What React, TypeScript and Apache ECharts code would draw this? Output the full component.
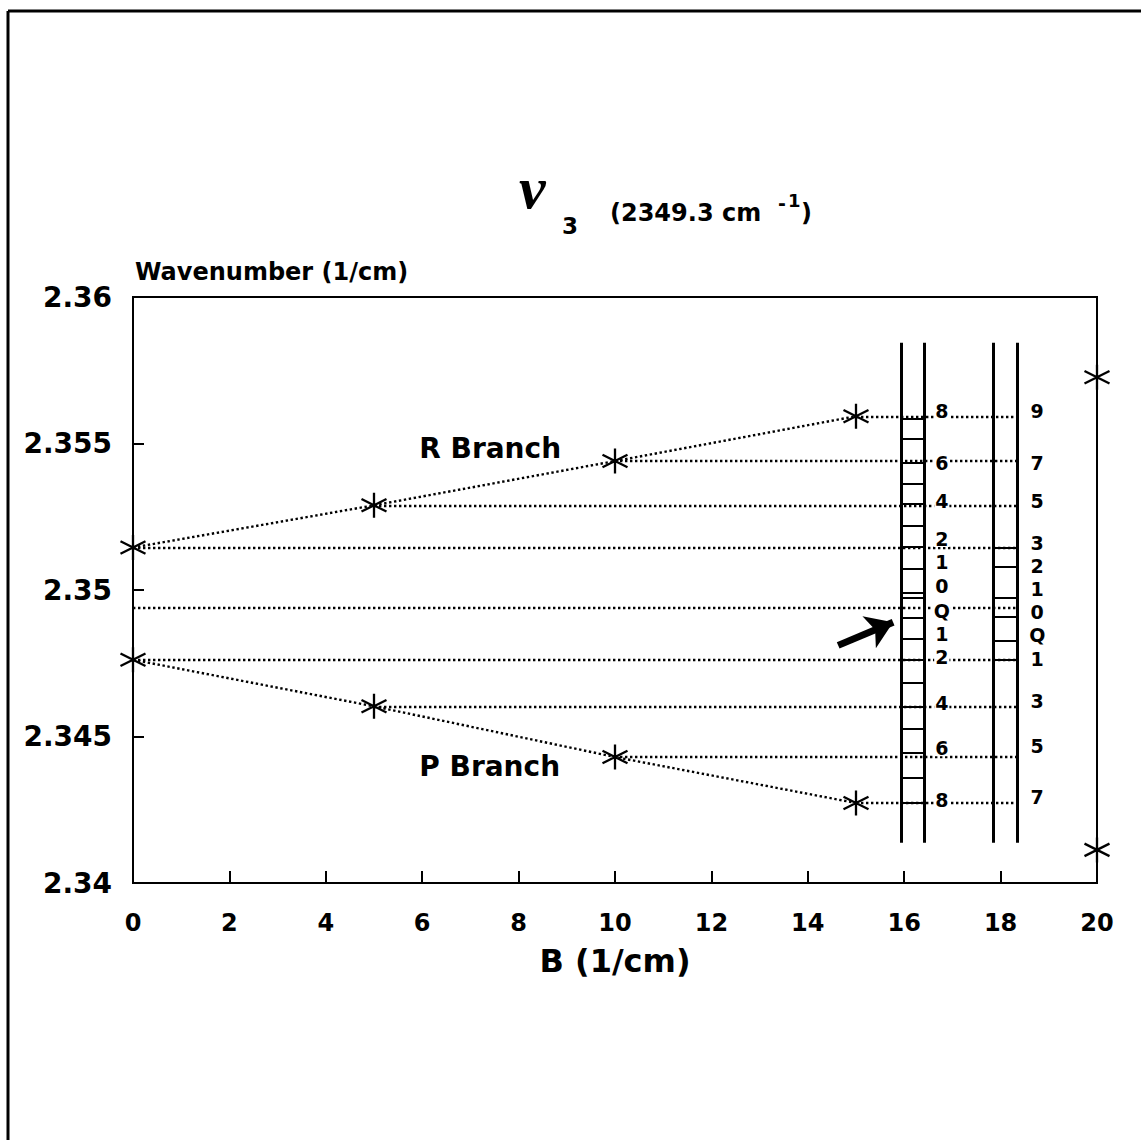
import React, { useEffect, useRef } from "react";
import * as echarts from "echarts";

// ---- data ----
const branchB = [0, 5, 10, 15];
const rBranch = [2.35145, 2.35289, 2.3544, 2.35593];
const pBranch = [2.34762, 2.34603, 2.3443, 2.34273];
const qLevel = 2.34941;
const edgeB = 20;
const edgePoints = [2.35726, 2.34113];

const xTicks = [0, 2, 4, 6, 8, 10, 12, 14, 16, 18, 20];
const yMin = 2.34;
const yMax = 2.36;
const yStep = 0.005;

// ladders
const leftRailsB = [15.93, 16.41];
const rightRailsB = [17.84, 18.34];
const railRange = [2.34137, 2.35844];
const leftRungs = [
  2.35586, 2.355146, 2.35433, 2.353615, 2.352935, 2.352187, 2.351473, 2.350724,
  2.349908, 2.349738, 2.349058, 2.348344, 2.34763, 2.346847, 2.346031, 2.345249,
  2.344433, 2.343582, 2.342732,
];
const rightRungs = [2.35145, 2.35079, 2.34975, 2.34909, 2.34827, 2.34762];
const levelEndB = 18.34;

// ladder labels
const leftLabelB = 16.78;
const leftLabels = ["8", "6", "4", "2", "1", "0", "Q", "1", "2", "4", "6", "8"];
const leftLabelValues = [
  2.3561, 2.35433, 2.35304, 2.35174, 2.35096, 2.35015, 2.3493, 2.34851, 2.3477,
  2.34613, 2.3446, 2.34283,
];
const rightLabelB = 18.76;
const rightLabels = ["9", "7", "5", "3", "2", "1", "0", "Q", "1", "3", "5", "7"];
const rightLabelValues = [
  2.3561, 2.35433, 2.35304, 2.35162, 2.35082, 2.35004, 2.34926, 2.34846, 2.34763,
  2.3462, 2.34467, 2.34294,
];

const branchNames = ["R Branch", "P Branch"];
const branchNamePos = [
  [7.41, 2.35484],
  [7.4, 2.34399],
];
const arrowCoords = [
  [14.63, 2.34811],
  [15.77, 2.3489],
];

const FONT = "DejaVu Sans";
const STAR = "path://M0,-10L0,10M-9,-5L9,5M-9,5L9,-5";

export default function App() {
  const ref = useRef<HTMLDivElement>(null);

  useEffect(() => {
    if (!ref.current) return;
    const chart = echarts.init(ref.current, undefined, { renderer: "svg" });

    const levelLines = [
      { start: branchB[3], v: rBranch[3] },
      { start: branchB[2], v: rBranch[2] },
      { start: branchB[1], v: rBranch[1] },
      { start: branchB[0], v: rBranch[0] },
      { start: 0, v: qLevel },
      { start: branchB[0], v: pBranch[0] },
      { start: branchB[1], v: pBranch[1] },
      { start: branchB[2], v: pBranch[2] },
      { start: branchB[3], v: pBranch[3] },
    ];

    const rails = [...leftRailsB, ...rightRailsB].map((b) => ({
      coords: [
        [b, railRange[0]],
        [b, railRange[1]],
      ],
    }));
    const rungs = [
      ...leftRungs.map((v) => ({
        coords: [
          [leftRailsB[0], v],
          [leftRailsB[1], v],
        ],
      })),
      ...rightRungs.map((v) => ({
        coords: [
          [rightRailsB[0], v],
          [rightRailsB[1], v],
        ],
      })),
    ];

    const labelData = [
      ...leftLabels.map((t, i) => ({ value: [leftLabelB, leftLabelValues[i]], name: t })),
      ...rightLabels.map((t, i) => ({ value: [rightLabelB, rightLabelValues[i]], name: t })),
    ];

    const dotted = { color: "#000", width: 2.4, type: [2.4, 2.6], opacity: 1 };

    chart.setOption({
      animation: false,
      backgroundColor: "#fff",
      grid: {
        left: 133,
        top: 297,
        width: 964,
        height: 586,
        show: true,
        borderColor: "#000",
        borderWidth: 2,
      },
      xAxis: {
        type: "value",
        min: 0,
        max: 20,
        interval: 2,
        name: "B (1/cm)",
        nameLocation: "middle",
        nameGap: 62,
        nameTextStyle: { fontFamily: FONT, fontWeight: "bold", fontSize: 32, color: "#000" },
        axisLine: { lineStyle: { color: "#000", width: 2 } },
        axisTick: { inside: true, length: 12, lineStyle: { color: "#000", width: 2 } },
        axisLabel: {
          margin: 28,
          fontFamily: FONT,
          fontWeight: "bold",
          fontSize: 24,
          color: "#000",
          formatter: (v: number) => (xTicks.includes(v) ? String(v) : ""),
        },
        splitLine: { show: false },
      },
      yAxis: {
        type: "value",
        min: yMin,
        max: yMax,
        interval: yStep,
        axisLine: { lineStyle: { color: "#000", width: 2 } },
        axisTick: { inside: true, length: 11, lineStyle: { color: "#000", width: 2 } },
        axisLabel: {
          margin: 21,
          fontFamily: FONT,
          fontWeight: "bold",
          fontSize: 28,
          color: "#000",
          formatter: (v: number) => String(parseFloat(v.toFixed(3))),
        },
        splitLine: { show: false },
      },
      graphic: [
        { type: "line", shape: { x1: 8, y1: 11, x2: 1141, y2: 11 }, style: { stroke: "#000", lineWidth: 3 } },
        { type: "line", shape: { x1: 8, y1: 11, x2: 8, y2: 1140 }, style: { stroke: "#000", lineWidth: 3 } },
        {
          type: "text",
          x: 135,
          y: 272,
          style: {
            text: "Wavenumber (1/cm)",
            font: `bold 24px '${FONT}'`,
            fill: "#000",
            textVerticalAlign: "middle",
          },
        },
        {
          type: "text",
          x: 519,
          y: 218,
          style: {
            text: "ν",
            font: "italic bold 60px 'Liberation Serif'",
            fill: "#000",
            textVerticalAlign: "bottom",
          },
        },
        {
          type: "text",
          x: 562,
          y: 226,
          style: { text: "3", font: `bold 23px '${FONT}'`, fill: "#000", textVerticalAlign: "middle" },
        },
        {
          type: "text",
          x: 610,
          y: 213,
          style: {
            text: "(2349.3 cm",
            font: `bold 24px '${FONT}'`,
            fill: "#000",
            textVerticalAlign: "middle",
          },
        },
        {
          type: "text",
          x: 778,
          y: 203,
          style: { text: "-", font: `bold 19px '${FONT}'`, fill: "#000", textVerticalAlign: "middle" },
        },
        {
          type: "text",
          x: 788,
          y: 200,
          style: { text: "1", font: `bold 18px '${FONT}'`, fill: "#000", textVerticalAlign: "middle" },
        },
        {
          type: "text",
          x: 801,
          y: 213,
          style: { text: ")", font: `bold 24px '${FONT}'`, fill: "#000", textVerticalAlign: "middle" },
        },
      ],
      series: [
        {
          type: "lines",
          coordinateSystem: "cartesian2d",
          polyline: true,
          silent: true,
          lineStyle: dotted,
          data: [
            { coords: branchB.map((b, i) => [b, rBranch[i]]) },
            { coords: branchB.map((b, i) => [b, pBranch[i]]) },
          ],
        },
        {
          type: "lines",
          coordinateSystem: "cartesian2d",
          silent: true,
          lineStyle: dotted,
          data: levelLines.map((l) => ({
            coords: [
              [l.start, l.v],
              [levelEndB, l.v],
            ],
          })),
        },
        {
          type: "lines",
          coordinateSystem: "cartesian2d",
          silent: true,
          lineStyle: { color: "#000", width: 3, type: "solid", opacity: 1 },
          data: rails,
        },
        {
          type: "lines",
          coordinateSystem: "cartesian2d",
          silent: true,
          z: 3,
          lineStyle: { color: "#000", width: 2, type: "solid", opacity: 1 },
          data: rungs,
        },
        {
          type: "lines",
          coordinateSystem: "cartesian2d",
          silent: true,
          symbol: ["none", "arrow"],
          symbolSize: 26,
          lineStyle: { color: "#000", width: 7, type: "solid", opacity: 1 },
          data: [{ coords: arrowCoords }],
        },
        {
          type: "scatter",
          silent: true,
          symbol: STAR,
          symbolSize: [25, 25],
          z: 5,
          itemStyle: { color: "none", borderColor: "#000", borderWidth: 2.3, opacity: 1 },
          data: [
            ...branchB.map((b, i) => [b, rBranch[i]]),
            ...branchB.map((b, i) => [b, pBranch[i]]),
            ...edgePoints.map((v) => [edgeB, v]),
          ],
        },
        {
          type: "scatter",
          silent: true,
          symbol: "circle",
          symbolSize: 1,
          z: 6,
          itemStyle: { color: "transparent", opacity: 1 },
          label: {
            show: true,
            position: "inside",
            formatter: "{b}",
            fontFamily: FONT,
            fontWeight: "bold",
            fontSize: 19,
            lineHeight: 16,
            color: "#000",
            backgroundColor: "#fff",
            padding: [0, 1],
          },
          data: labelData,
        },
        {
          type: "scatter",
          silent: true,
          symbol: "circle",
          symbolSize: 1,
          z: 6,
          itemStyle: { color: "transparent", opacity: 1 },
          label: {
            show: true,
            position: "inside",
            formatter: "{b}",
            fontFamily: FONT,
            fontWeight: "bold",
            fontSize: 28,
            color: "#000",
          },
          data: branchNames.map((n, i) => ({ value: branchNamePos[i], name: n })),
        },
      ],
    });

    return () => chart.dispose();
  }, []);

  return (
    <div
      ref={ref}
      style={{ position: "absolute", left: 0, top: 0, width: 1141, height: 1140, background: "#fff" }}
    />
  );
}
